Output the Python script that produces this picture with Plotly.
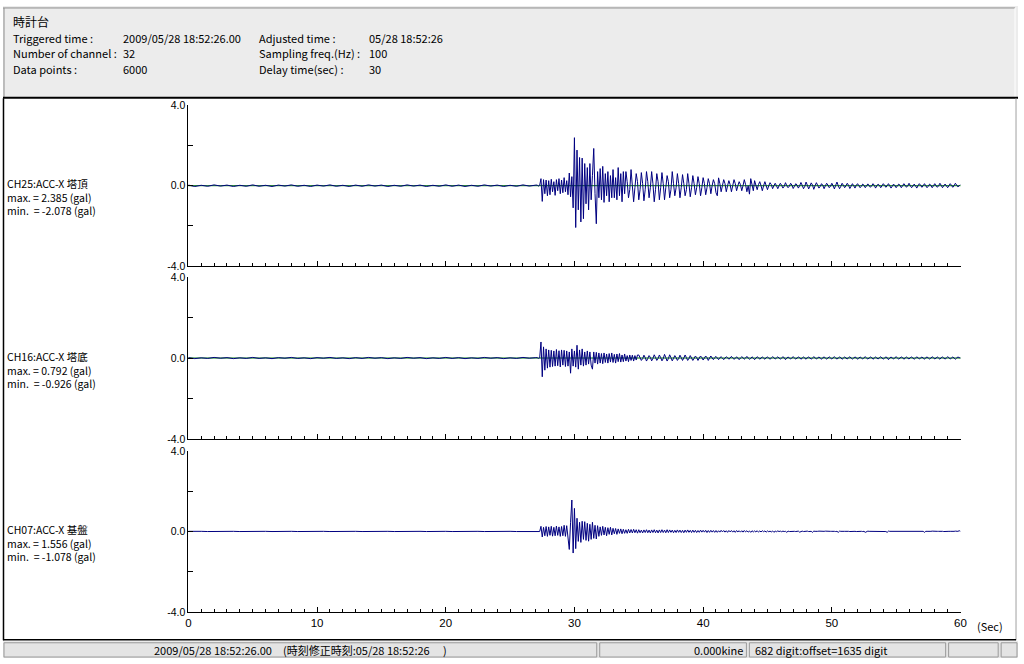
import numpy as np
import plotly.graph_objects as go

W, H = 1024, 664
FONT = "Noto Sans CJK JP"
NUMFONT = "Liberation Sans"
NAVY = "#000080"

# ---------------- data (gal) ----------------
pre_step = 0.5          # pre-event samples every 0.5 s from 0.0 s
act_start = 27.1        # active part sampled every 0.1 s from 27.1 s
act_step = 0.1

ch_names = ["CH25:ACC-X 塔頂", "CH16:ACC-X 塔底", "CH07:ACC-X 基盤"]
ch_max = ["2.385", "0.792", "1.556"]
ch_min = ["-2.078", "-0.926", "-1.078"]

ch25_pre = [0.03, -0.04, 0.02, -0.03, 0.04, -0.02, 0.03, -0.04, 0.02, -0.03,
            0.04, -0.03, 0.02, -0.04, 0.03, -0.02, 0.04, -0.03, 0.02, -0.04,
            0.03, -0.02, 0.04, -0.03, 0.02, -0.04, 0.03, -0.03, 0.04, -0.02,
            0.03, -0.04, 0.02, -0.03, 0.04, -0.02, 0.03, -0.04, 0.02, -0.03,
            0.04, -0.03, 0.03, -0.04, 0.02, -0.03, 0.04, -0.02, 0.03, -0.04,
            0.02, -0.03, 0.04, -0.02, 0.03]
ch25_act = [0.03, -0.02, 0.02, 0.35, -0.78, 0.30, -0.40, 0.28, -0.50,
            0.25, -0.45, 0.32, -0.30, 0.20, -0.48, 0.30, -0.25, 0.35, -0.40,
            0.28, -0.35, 0.40, -0.30, 0.25, -0.45, 0.63, -0.55, 0.45, -1.10,
            2.385, -2.078, 1.77, -1.20, 1.40, -1.80, 1.37, -1.64, 1.10, -0.90,
            0.90, -1.20, 1.10, -0.70, 0.50, 1.85, -0.40, -1.89, 0.70, -0.60,
            0.85, -0.70, 0.96, -0.83, 0.60, -0.50, 0.70, -0.80, 0.50, -0.60,
            0.80, -0.60, 0.40, -0.70, 0.90, -0.50, 0.60, -0.80, 0.70, -0.40,
            0.70, 0.20, -0.60, -0.20, 0.80, 0.10, -0.80, -0.10, 0.60, 0.20,
            -0.70, -0.20, 0.65, 0.10, -0.75, -0.20, 0.70, 0.20, -0.60, -0.10,
            0.70, 0.10, -0.80, -0.20, 0.60, 0.20, -0.70, -0.10, 0.65, 0.10,
            -0.70, -0.10, 0.50, 0.20, -0.60, -0.20, 0.70, 0.10, -0.50, -0.10,
            0.60, 0.10, -0.60, -0.10, 0.55, 0.10, -0.50, -0.20, 0.60, 0.10,
            -0.55, -0.10, 0.50, 0.10, -0.45, -0.10, 0.45, 0.10, -0.50, -0.10,
            0.40, 0.10, -0.45, -0.10, 0.35, 0.10, -0.40, 0.00, 0.30, 0.10,
            -0.35, -0.50, 0.39, 0.10, -0.30, 0.00, 0.30, 0.10, -0.30, 0.00,
            0.25, 0.05, -0.30, 0.00, 0.30, 0.10, -0.25, 0.00, 0.20, 0.05,
            -0.25, 0.00, 0.30, 0.05, -0.30, 0.00, -0.42, 0.35, 0.10, -0.25,
            0.25, 0.00, -0.20, 0.05, 0.20, 0.00, -0.25, 0.00, 0.20, 0.00,
            -0.20, 0.00, 0.15, 0.05, -0.15, 0.00, 0.12, 0.00, -0.15, 0.00,
            0.12, 0.02, -0.12, -0.03, 0.15, 0.00, -0.10, -0.02, 0.12, 0.03,
            -0.14, -0.02, 0.10, 0.03, -0.12, 0.00, 0.16, 0.02, -0.15, -0.03,
            0.18, 0.02, -0.16, -0.02, 0.14, 0.03, -0.18, 0.00, 0.15, 0.02,
            -0.12, -0.03, 0.10, 0.02, -0.15, 0.00, 0.12, 0.03, -0.10, -0.02,
            0.12, 0.00, -0.16, 0.02, 0.18, 0.00, -0.15, -0.03, 0.12, 0.02,
            -0.10, 0.00, 0.12, 0.02, -0.14, -0.02, 0.10, 0.00, -0.12, 0.02,
            0.10, 0.00, -0.10, -0.02, 0.08, 0.02, -0.10, 0.00, 0.09, 0.00,
            -0.08, 0.00, 0.10, 0.02, -0.12, 0.00, 0.08, 0.02, -0.10, 0.00,
            0.10, 0.02, -0.08, 0.00, 0.10, 0.00, -0.12, -0.02, 0.08, 0.00,
            -0.10, 0.00, 0.08, 0.02, -0.10, 0.00, 0.10, 0.02, -0.08, 0.00,
            0.12, 0.00, -0.10, -0.02, 0.08, 0.00, -0.12, 0.00, 0.10, 0.02,
            -0.08, 0.00, 0.10, 0.00, -0.10, -0.02, 0.08, 0.02, -0.10, 0.00,
            0.10, 0.00, -0.08, 0.00, 0.12, 0.02, -0.10, 0.00, 0.08, 0.00,
            -0.10, 0.00, 0.10, 0.02, -0.08, 0.00, 0.12, 0.03, -0.06, 0.00,
            0.05]

ch16_pre = [0.02, -0.03, 0.01, -0.02, 0.03, -0.01, 0.02, -0.03, 0.01, -0.02,
            0.03, -0.02, 0.01, -0.03, 0.02, -0.01, 0.03, -0.02, 0.01, -0.03,
            0.02, -0.01, 0.03, -0.02, 0.01, -0.03, 0.02, -0.02, 0.03, -0.01,
            0.02, -0.03, 0.01, -0.02, 0.03, -0.01, 0.02, -0.03, 0.01, -0.02,
            0.03, -0.02, 0.02, -0.03, 0.01, -0.02, 0.03, -0.01, 0.02, -0.03,
            0.01, -0.02, 0.03, -0.01, 0.02]
ch16_act = [0.02, -0.02, 0.01, 0.792, -0.926, 0.55, -0.60, 0.45, -0.50,
            0.40, -0.45, 0.38, -0.42, 0.35, -0.40, 0.42, -0.38, 0.36, -0.44,
            0.40, -0.35, 0.38, -0.42, 0.35, -0.40, 0.30, -0.75, 0.45, -0.40,
            0.35, -0.45, 0.63, -0.55, 0.40, -0.35, 0.45, -0.40, 0.30, -0.35,
            0.35, -0.30, 0.30, -0.35, -0.55, 0.30, -0.25, 0.28, -0.30, 0.25,
            -0.25, 0.22, -0.28, 0.25, -0.22, 0.20, -0.25, 0.22, -0.20, 0.25,
            -0.22, 0.18, -0.25, 0.20, -0.18, 0.22, -0.20, 0.15, -0.18, 0.20,
            -0.15, 0.12, -0.18, 0.15, -0.12, 0.14, -0.15, 0.12, -0.10, 0.15,
            0.15, 0.03, -0.12, -0.03, 0.14, 0.02, -0.15, -0.02, 0.12, 0.03,
            -0.14, -0.02, 0.16, 0.03, -0.12, -0.02, 0.15, 0.02, -0.14, -0.03,
            0.18, 0.02, -0.15, -0.03, 0.16, 0.02, -0.14, -0.02, 0.12, 0.02,
            -0.12, -0.02, 0.14, 0.02, -0.12, 0.00, 0.15, 0.02, -0.12, -0.02,
            0.12, 0.00, -0.12, -0.02, 0.10, 0.02, -0.12, 0.00, 0.10, 0.02,
            -0.10, 0.00, 0.10, 0.02, -0.12, 0.00, 0.10, 0.00, -0.08, 0.02,
            0.08, 0.00, -0.08, 0.02, 0.06, 0.00, -0.08, 0.00, 0.06, 0.02,
            -0.06, 0.00, 0.08, 0.00, -0.06, -0.02, 0.06, 0.00, -0.08, 0.00,
            0.06, 0.02, -0.06, 0.00, 0.08, 0.00, -0.06, -0.02, 0.06, 0.00,
            -0.08, 0.00, 0.06, 0.02, -0.06, 0.00, 0.05, 0.00, -0.06, 0.02,
            0.05, 0.00, -0.06, 0.00, 0.06, 0.02, -0.05, 0.00, 0.06, 0.00,
            -0.05, 0.00, 0.06, 0.02, -0.08, 0.00, 0.05, 0.00, -0.05, 0.02,
            0.06, 0.00, -0.05, 0.00, 0.05, 0.02, -0.06, 0.00, 0.05, 0.00,
            -0.06, 0.02, 0.05, 0.00, -0.05, 0.00, 0.06, 0.02, -0.05, 0.00,
            0.05, 0.00, -0.06, 0.02, 0.05, 0.00, -0.05, 0.00, 0.06, 0.00,
            -0.05, 0.02, 0.06, 0.00, -0.05, 0.00, 0.05, 0.02, -0.06, 0.00,
            0.05, 0.00, -0.05, 0.02, 0.06, 0.00, -0.05, 0.00, 0.05, 0.02,
            -0.06, 0.00, 0.05, 0.00, -0.05, 0.02, 0.06, 0.00, -0.05, 0.00,
            0.05, 0.02, -0.06, 0.00, 0.05, 0.00, -0.05, 0.02, 0.06, 0.00,
            -0.05, 0.00, 0.05, 0.02, -0.08, 0.00, 0.05, 0.00, -0.05, 0.02,
            0.06, 0.00, -0.05, 0.00, 0.05, 0.02, -0.06, 0.00, 0.05, 0.00,
            -0.05, 0.02, 0.05, 0.00, -0.06, 0.00, 0.05, 0.02, -0.05, 0.00,
            0.05, 0.00, -0.06, 0.02, 0.05, 0.00, -0.05, 0.00, 0.06, 0.02,
            -0.05, 0.00, 0.05, 0.00, -0.06, 0.02, 0.05, 0.00, -0.05, 0.00,
            0.06, 0.02, -0.05, 0.00, 0.05, 0.00, -0.06, 0.00, 0.05, 0.02,
            0.00]

ch07_pre = [0.00, 0.01, 0.00, -0.01, 0.00, 0.01, 0.00, 0.00, -0.01, 0.00,
            0.01, 0.00, 0.00, -0.01, 0.00, 0.01, 0.00, -0.01, 0.00, 0.00,
            0.01, 0.00, -0.01, 0.00, 0.00, 0.01, 0.00, -0.01, 0.00, 0.01,
            0.00, 0.00, -0.01, 0.00, 0.01, 0.00, 0.00, -0.01, 0.00, 0.01,
            0.00, -0.01, 0.00, 0.00, 0.01, 0.00, -0.01, 0.00, 0.01, 0.00,
            0.00, -0.01, 0.00, 0.01, 0.00]
ch07_act = [0.00, 0.01, -0.01, 0.25, -0.28, 0.20, -0.22, 0.24, -0.25,
            0.22, -0.20, 0.25, -0.24, 0.20, -0.22, 0.26, -0.20, 0.22, -0.25,
            0.24, -0.22, 0.30, -0.25, 0.28, -0.45, -0.90, 0.45, 1.556, -1.078,
            1.14, -0.86, 0.65, -0.50, 0.45, -0.55, 0.50, -0.40, 0.48, -0.45,
            0.40, -0.49, 0.35, -0.40, 0.45, -0.35, 0.30, -0.38, 0.28, -0.25,
            0.22, -0.20, 0.25, -0.18, 0.20, -0.22, 0.18, -0.15, 0.20, -0.18,
            0.15, -0.12, 0.14, -0.15, 0.12, -0.10, 0.12, -0.12, 0.10, -0.10,
            0.08, -0.10, 0.10, -0.08, 0.09, -0.08, 0.10, -0.07, 0.08, -0.09,
            0.08, -0.07, 0.06, -0.08, 0.07, -0.06, 0.08, -0.07, 0.06, -0.08,
            0.07, -0.06, 0.08, -0.07, 0.06, -0.08, 0.07, -0.06, 0.08, -0.06,
            0.06, -0.07, 0.08, -0.06, 0.07, -0.05, 0.06, -0.07, 0.05, -0.06,
            0.07, -0.05, 0.06, -0.06, 0.05, -0.07, 0.06, -0.05, 0.07, -0.05,
            0.05, -0.06, 0.06, -0.05, 0.05, -0.06, 0.04, -0.05, 0.06, -0.04,
            0.05, -0.04, 0.05, -0.06, 0.04, -0.05, 0.05, -0.04, 0.04, -0.05,
            0.04, -0.05, 0.03, -0.04, 0.05, -0.03, 0.04, -0.04, 0.03, -0.05,
            0.04, -0.03, 0.04, -0.04, 0.03, -0.05, 0.04, -0.03, 0.03, -0.04,
            0.03, -0.04, 0.04, -0.03, 0.03, -0.04, 0.02, -0.05, 0.03, -0.03,
            0.02, -0.03, 0.03, -0.04, 0.02, -0.03, 0.03, -0.02, 0.02, -0.04,
            0.02, -0.02, 0.01, -0.03, 0.02, -0.05, 0.01, -0.02, 0.02, -0.01,
            0.01, -0.02, 0.01, -0.01, 0.00, -0.05, 0.01, -0.01, 0.00, -0.02,
            0.01, 0.00, -0.01, 0.00, 0.01, -0.04, 0.00, 0.01, -0.01, 0.00,
            0.00, 0.01, -0.01, 0.00, 0.00, -0.05, 0.01, 0.00, -0.01, 0.00,
            0.01, 0.00, 0.00, -0.01, 0.00, 0.01, 0.00, -0.01, 0.00, 0.00,
            0.00, 0.01, 0.00, -0.01, 0.00, -0.05, 0.01, 0.00, -0.01, 0.00,
            0.00, 0.00, 0.01, 0.00, -0.01, 0.00, 0.00, 0.01, 0.00, -0.01,
            0.00, 0.01, 0.00, 0.00, -0.01, 0.00, -0.05, 0.00, 0.01, 0.00,
            0.00, -0.01, 0.00, 0.01, 0.00, 0.00, -0.01, 0.00, 0.01, 0.00,
            0.00, 0.00, -0.01, -0.05, 0.01, 0.00, 0.00, -0.01, 0.00, 0.00,
            0.01, 0.00, 0.00, -0.01, 0.00, 0.01, 0.00, 0.00, -0.01, 0.00,
            0.00, 0.01, 0.00, 0.00, -0.01, 0.00, 0.00, 0.01, 0.00, 0.00,
            -0.01, 0.00, -0.05, 0.00, 0.00, -0.01, 0.00, 0.00, 0.01, 0.00,
            0.00, -0.01, 0.00, 0.00, 0.01, 0.00, 0.00, -0.01, 0.00, 0.00,
            0.01, 0.00, 0.00, -0.01, 0.00, 0.00, 0.01, 0.00, 0.00, 0.03,
            0.00]

x_ticks = [0, 10, 20, 30, 40, 50, 60]
y_tickvals = [-4, -2, 0, 2, 4]
y_ticktext = ["-4.0", "", "0.0", "", "4.0"]

pre_series = [ch25_pre, ch16_pre, ch07_pre]
act_series = [ch25_act, ch16_act, ch07_act]

# ---------------- geometry (pixels of the 1024x664 reference) ----------------
X0, X1 = 187, 966
panels = [(101, 265), (276, 441), (453, 617)]
label_y = [195, 371, 547]


def px(x):
    return x / W


def py(y):
    return 1 - y / H


fig = go.Figure()
for i in range(3):
    pre = pre_series[i]
    act = act_series[i]
    t = np.concatenate([np.arange(len(pre)) * pre_step,
                        act_start + np.arange(len(act)) * act_step])
    v = np.concatenate([pre, act])
    sfx = "" if i == 0 else str(i + 1)
    fig.add_trace(go.Scatter(x=t, y=v, mode="lines",
                             line=dict(color=NAVY, width=1),
                             xaxis="x" + sfx, yaxis="y" + sfx,
                             hoverinfo="skip"))

layout = dict(autosize=True, margin=dict(l=0, r=0, t=0, b=0, pad=0),
              showlegend=False, paper_bgcolor="white", plot_bgcolor="white",
              font=dict(family=FONT, size=11, color="black"))

for i, (top, bot) in enumerate(panels):
    sfx = "" if i == 0 else str(i + 1)
    layout["xaxis" + sfx] = dict(
        domain=[px(X0), px(X1)], range=[0, 60], anchor="y" + sfx,
        showline=True, linecolor="black", linewidth=1,
        ticks="inside", ticklen=5, tickcolor="black", tickwidth=1,
        tickvals=x_ticks, ticktext=[str(v) for v in x_ticks],
        minor=dict(dtick=1, tick0=0, ticks="inside", ticklen=3,
                   tickcolor="black", tickwidth=1, showgrid=False),
        showgrid=False, zeroline=False, showticklabels=(i == 2),
        tickfont=dict(family=NUMFONT, size=11.5, color="black"))
    layout["yaxis" + sfx] = dict(
        domain=[py(bot), py(top)], range=[-4, 4], anchor="x" + sfx,
        showline=True, linecolor="black", linewidth=1,
        ticks="inside", ticklen=5, tickcolor="black", tickwidth=1,
        tickvals=y_tickvals, ticktext=y_ticktext,
        showgrid=False, zeroline=False,
        tickfont=dict(family=NUMFONT, size=10.5, color="black"))

fig.update_layout(**layout)

shapes = []
HEAD = "#ECECEC"
# header panel
shapes.append(dict(type="rect", xref="paper", yref="paper",
                   x0=0, x1=1, y0=py(93), y1=1,
                   fillcolor=HEAD, line=dict(width=0), layer="below"))
shapes.append(dict(type="line", xref="paper", yref="paper",
                   x0=px(0), x1=px(1021), y0=py(2), y1=py(2),
                   line=dict(color="#8c8c8c", width=1)))
shapes.append(dict(type="line", xref="paper", yref="paper",
                   x0=px(1), x1=px(1), y0=py(2), y1=py(93),
                   line=dict(color="#8c8c8c", width=1)))
shapes.append(dict(type="line", xref="paper", yref="paper",
                   x0=px(1021), x1=px(1021), y0=py(2), y1=py(93),
                   line=dict(color="#ffffff", width=1)))
shapes.append(dict(type="line", xref="paper", yref="paper",
                   x0=0, x1=1, y0=py(93.5), y1=py(93.5),
                   line=dict(color="black", width=2)))
# plot area frame
shapes.append(dict(type="line", xref="paper", yref="paper",
                   x0=px(0.5), x1=px(0.5), y0=py(94), y1=py(646),
                   line=dict(color="black", width=1.5)))
shapes.append(dict(type="line", xref="paper", yref="paper",
                   x0=px(1022), x1=px(1022), y0=py(94), y1=py(646),
                   line=dict(color="#a0a0a0", width=1)))
shapes.append(dict(type="line", xref="paper", yref="paper",
                   x0=0, x1=px(1022), y0=py(645.5), y1=py(645.5),
                   line=dict(color="black", width=1.5)))
# footer
shapes.append(dict(type="rect", xref="paper", yref="paper",
                   x0=0, x1=1, y0=0, y1=py(647),
                   fillcolor="#E4E4E4", line=dict(width=0), layer="below"))
for a, b in [(1, 599), (602, 750), (753, 951), (954, 1004), (1007, 1023)]:
    shapes.append(dict(type="rect", xref="paper", yref="paper",
                       x0=px(a), x1=px(b), y0=py(663), y1=py(648.5),
                       fillcolor="#E4E4E4",
                       line=dict(color="#9a9a9a", width=1), layer="below"))
# green zero lines
for i in range(2):
    sfx = "" if i == 0 else str(i + 1)
    shapes.append(dict(type="line", xref="x" + sfx + " domain", yref="y" + sfx,
                       x0=0, x1=1, y0=0, y1=0,
                       line=dict(color="#008000", width=1), layer="below"))

ann = []


def text(x, y, s, anchor="left", size=11, fam=FONT, yanchor="middle"):
    ann.append(dict(x=px(x), y=py(y), xref="paper", yref="paper", text=s,
                    showarrow=False, xanchor=anchor, yanchor=yanchor,
                    align="left", borderpad=0,
                    font=dict(family=fam, size=size, color="black")))


text(9, 16, "時計台", size=12)
rows = [("Triggered time :", "2009/05/28 18:52:26.00", "Adjusted time :", "05/28 18:52:26"),
        ("Number of channel :", "32", "Sampling freq.(Hz) :", "100"),
        ("Data points :", "6000", "Delay time(sec) :", "30")]
for (a, b, c, d), y in zip(rows, [33, 48, 64]):
    text(9, y, a)
    text(120, y, b)
    text(257, y, c)
    text(368, y, d)

for i in range(3):
    s = (ch_names[i] + "<br>max. = " + ch_max[i] + " (gal)"
         + "<br>min.  = " + ch_min[i] + " (gal)")
    text(3, label_y[i], s, size=10.5)

text(982, 631, "(Sec)")
text(300, 656, "2009/05/28 18:52:26.00　(時刻修正時刻:05/28 18:52:26　 )",
     anchor="center", size=11)
text(748, 656, "0.000kine", anchor="right")
text(758, 656, "682 digit:offset=1635 digit")

fig.update_layout(shapes=shapes, annotations=ann)

fix_js = ("document.documentElement.style.margin='0';"
          "document.documentElement.style.padding='0';"
          "document.documentElement.style.overflow='hidden';"
          "document.body.style.margin='0';"
          "document.body.style.padding='0';"
          "document.body.style.overflow='hidden';"
          "var gd=document.getElementById('{plot_id}');"
          "gd.style.position='fixed';gd.style.left='0px';gd.style.top='0px';"
          "gd.style.width='100vw';gd.style.height='100vh';"
          "Plotly.Plots.resize(gd);")
fig.write_html("out.html", config={"displayModeBar": False, "responsive": True},
               default_width="100vw", default_height="100vh",
               post_script=fix_js)
